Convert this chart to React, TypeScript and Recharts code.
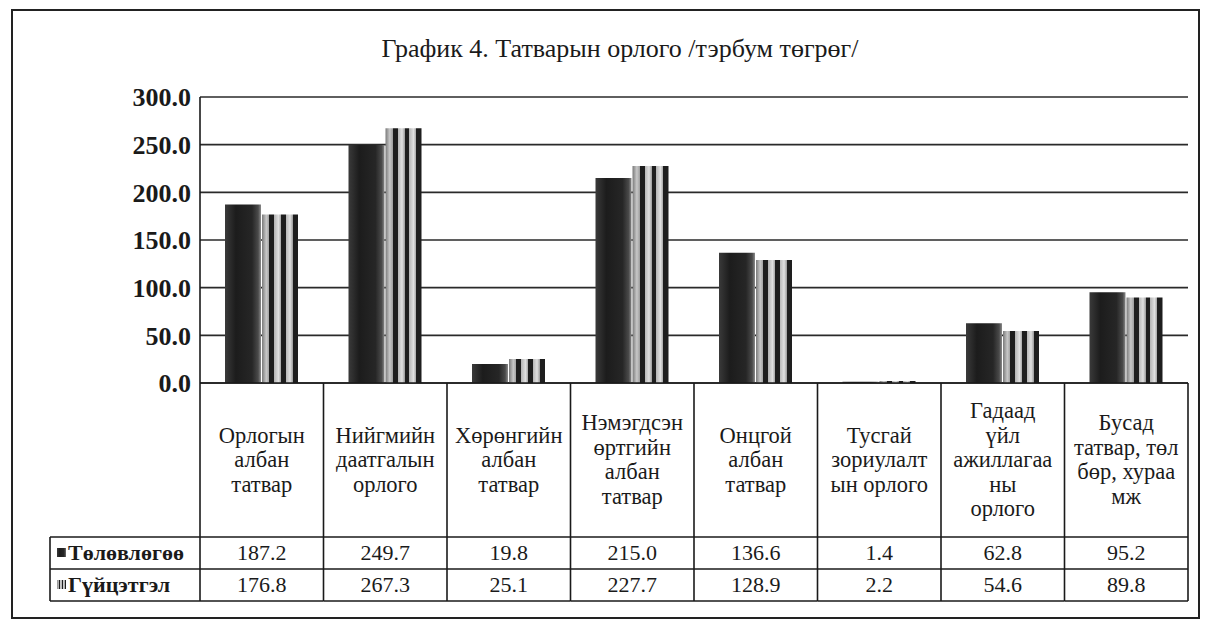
import { Bar, BarChart, CartesianGrid, XAxis, YAxis } from "recharts";

const categories = [
  "Орлогын\nалбан\nтатвар",
  "Нийгмийн\nдаатгалын\nорлого",
  "Хөрөнгийн\nалбан\nтатвар",
  "Нэмэгдсэн\nөртгийн\nалбан\nтатвар",
  "Онцгой\nалбан\nтатвар",
  "Тусгай\nзориулалт\nын орлого",
  "Гадаад\nүйл\nажиллагаа\nны\nорлого",
  "Бусад\nтатвар, төл\nбөр, хураа\nмж",
];
const plan = [187.2, 249.7, 19.8, 215.0, 136.6, 1.4, 62.8, 95.2];
const actual = [176.8, 267.3, 25.1, 227.7, 128.9, 2.2, 54.6, 89.8];
const seriesNames = ["Төлөвлөгөө", "Гүйцэтгэл"];
const yTicks = [0, 50, 100, 150, 200, 250, 300];
const title = "График 4. Татварын орлого /тэрбум төгрөг/";

const data = categories.map((name, i) => ({ name, plan: plan[i], actual: actual[i] }));

const FONT = '"Liberation Serif", "Times New Roman", serif';
const INK = "#1a1a1a";
const HEADER_H = 154;
const ROW_H = 32;
const LEGEND_LEFT = 50;

function TableTick(props: any) {
  const { x, y, payload, index } = props;
  const half = payload?.offset ?? 61.75;
  const left = x - half;
  const right = x + half;
  const lines = String(payload.value).split("\n");
  const lh = 24.5;
  const firstY = y + HEADER_H / 2 - ((lines.length - 1) * lh) / 2 + 7;
  const r1 = y + HEADER_H;
  const r2 = r1 + ROW_H;
  const r3 = r2 + ROW_H;
  return (
    <g>
      {index === 0 && (
        <g>
          <line x1={left} y1={y} x2={left} y2={r3} stroke={INK} strokeWidth={1.6} />
          <line x1={LEGEND_LEFT} y1={r1} x2={left} y2={r1} stroke={INK} strokeWidth={1.4} />
          <line x1={LEGEND_LEFT} y1={r2} x2={left} y2={r2} stroke={INK} strokeWidth={1.4} />
          <line x1={LEGEND_LEFT} y1={r3} x2={left} y2={r3} stroke={INK} strokeWidth={1.4} />
          <line x1={LEGEND_LEFT} y1={r1} x2={LEGEND_LEFT} y2={r3} stroke={INK} strokeWidth={1.6} />
          <rect x={LEGEND_LEFT + 7} y={r1 + ROW_H / 2 - 5} width={9} height={9} fill="url(#planFill)" />
          <rect x={LEGEND_LEFT + 7} y={r2 + ROW_H / 2 - 5} width={9} height={9} fill="url(#actualFill)" />
          <text x={LEGEND_LEFT + 18} y={r1 + ROW_H / 2 + 7} fontFamily={FONT} fontSize={22} fontWeight="bold" fill={INK}>
            {seriesNames[0]}
          </text>
          <text x={LEGEND_LEFT + 18} y={r2 + ROW_H / 2 + 7} fontFamily={FONT} fontSize={22} fontWeight="bold" fill={INK}>
            {seriesNames[1]}
          </text>
        </g>
      )}
      <line x1={right} y1={y} x2={right} y2={r3} stroke={INK} strokeWidth={1.6} />
      <line x1={left} y1={r1} x2={right} y2={r1} stroke={INK} strokeWidth={1.4} />
      <line x1={left} y1={r2} x2={right} y2={r2} stroke={INK} strokeWidth={1.4} />
      <line x1={left} y1={r3} x2={right} y2={r3} stroke={INK} strokeWidth={1.4} />
      <text textAnchor="middle" fontFamily={FONT} fontSize={22.5} fill={INK}>
        {lines.map((ln, i) => (
          <tspan key={i} x={x} y={firstY + i * lh}>
            {ln}
          </tspan>
        ))}
      </text>
      <text x={x} y={r1 + ROW_H / 2 + 7} textAnchor="middle" fontFamily={FONT} fontSize={22} fill={INK}>
        {plan[index].toFixed(1)}
      </text>
      <text x={x} y={r2 + ROW_H / 2 + 7} textAnchor="middle" fontFamily={FONT} fontSize={22} fill={INK}>
        {actual[index].toFixed(1)}
      </text>
    </g>
  );
}

export default function App() {
  return (
    <div style={{ position: "absolute", left: 0, top: 0, width: 1206, height: 626, background: "#fff" }}>
      <div
        style={{
          position: "absolute",
          left: 11,
          top: 9,
          width: 1185,
          height: 606,
          border: "2px solid #222",
        }}
      />
      <div
        style={{
          position: "absolute",
          left: 0,
          top: 34,
          width: 1240,
          textAlign: "center",
          fontFamily: FONT,
          fontSize: 26,
          color: INK,
        }}
      >
        {title}
      </div>
      <div style={{ position: "absolute", left: 0, top: 0 }}>
        <BarChart
          width={1206}
          height={626}
          data={data}
          margin={{ top: 97, right: 18, bottom: 25, left: 0 }}
          barSize={36}
          barGap={1}
        >
          <defs>
            <linearGradient id="planFill" x1="0" y1="0" x2="1" y2="0">
              <stop offset="0" stopColor="#3a3a3a" />
              <stop offset="0.3" stopColor="#1c1c1c" />
              <stop offset="0.75" stopColor="#262626" />
              <stop offset="0.92" stopColor="#4a4a4a" />
              <stop offset="1" stopColor="#8a8a8a" />
            </linearGradient>
            <linearGradient id="actualFill" x1="0" y1="0" x2="1" y2="0">
              <stop offset="0" stopColor="#7a7a7a" />
              <stop offset="0.12" stopColor="#c8c8c8" />
              <stop offset="0.2" stopColor="#a0a0a0" />
              <stop offset="0.2" stopColor="#1e1e1e" />
              <stop offset="0.34" stopColor="#1e1e1e" />
              <stop offset="0.34" stopColor="#b5b5b5" />
              <stop offset="0.46" stopColor="#e0e0e0" />
              <stop offset="0.54" stopColor="#9a9a9a" />
              <stop offset="0.54" stopColor="#1e1e1e" />
              <stop offset="0.66" stopColor="#1e1e1e" />
              <stop offset="0.66" stopColor="#b5b5b5" />
              <stop offset="0.78" stopColor="#e0e0e0" />
              <stop offset="0.86" stopColor="#9a9a9a" />
              <stop offset="0.86" stopColor="#1e1e1e" />
              <stop offset="1" stopColor="#1e1e1e" />
            </linearGradient>
          </defs>
          <CartesianGrid vertical={false} stroke="#2a2a2a" strokeWidth={1.6} />
          <XAxis
            dataKey="name"
            interval={0}
            height={218}
            tickLine={false}
            tickSize={0}
            tickMargin={0}
            axisLine={{ stroke: INK, strokeWidth: 1.6 }}
            tick={<TableTick />}
          />
          <YAxis
            width={200}
            domain={[0, 300]}
            ticks={yTicks}
            interval={0}
            tickLine={false}
            tickSize={0}
            tickMargin={9}
            axisLine={{ stroke: INK, strokeWidth: 1.6 }}
            tickFormatter={(v: number) => v.toFixed(1)}
            tick={{ fontFamily: FONT, fontSize: 26, fontWeight: "bold", fill: INK }}
          />
          <Bar dataKey="plan" name={seriesNames[0]} fill="url(#planFill)" isAnimationActive={false} />
          <Bar dataKey="actual" name={seriesNames[1]} fill="url(#actualFill)" isAnimationActive={false} />
        </BarChart>
      </div>
    </div>
  );
}
